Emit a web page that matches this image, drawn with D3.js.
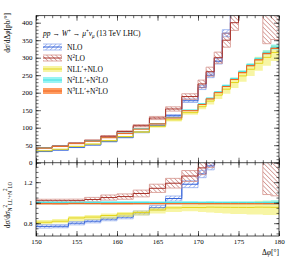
<!DOCTYPE html>
<html>
<head>
<meta charset="utf-8">
<script src="https://cdn.jsdelivr.net/npm/d3@7"></script>
<style>
body { margin: 0; background: #fff; }
svg text { font-family: "Liberation Serif", "DejaVu Serif", serif; fill: #000; }
.axis path.domain { display: none; }
.axis line { stroke: #000; stroke-width: 0.6; }
</style>
</head>
<body>
<div id="idChart"></div>
<script>
// bin edges in degrees (2 deg bins up to 170, 1 deg bins after)
var binEdges = [150,152,154,156,158,160,162,164,166,168,170,171,172,173,174,175,176,177,178,179,180];

// NLO (fixed order)
var nlo   = [32.3,36.2,44,50.8,60.5,72.2,87.3,106.4,134.2,177,215,250,290,370,450,600,600,600,600,600];
var nloLo = [31.6,35.5,43.1,49.8,59.3,70.8,85.5,104,131,172,209,243,282,360,440,590,590,590,590,590];
var nloHi = [33,36.9,44.9,51.8,61.7,73.6,89.1,108.8,137.4,182,221,257,298,380,460,610,610,610,610,610];

// N2LO (fixed order)
var n2lo   = [42.8,47.9,56.1,63.9,75.6,89,105.7,127.7,153.5,189,225,260,300,350,400,600,600,600,480,480];
var n2loLo = [42.2,47.2,55.3,62.6,73.8,86.8,102.5,123.2,147.4,181,214,247,284,330,378,560,560,560,340,352];
var n2loHi = [43.4,48.6,56.9,65.2,77.4,91.2,108.9,132.2,159.6,197,236,273,316,370,422,640,640,640,620,620];

// NLL'+NLO
var nll   = [34,38.5,46.8,53.3,63,74.8,87.8,104,122.5,143,160,176,193,210,229,248,267,284,301,315];
var nllLo = [33.2,37.6,45.1,51.5,60.8,72.2,84.9,100.2,117.4,137.3,152.9,166.5,181.8,196.9,213.6,231.4,247.8,262.8,277.2,290.4];
var nllHi = [34.9,39.5,47.9,54.6,64.4,76.4,89.7,106.4,125.1,147,166.3,184,202,220,242.4,262.6,282.8,302.9,321.3,336.6];

// N2LL'+N2LO (reference for ratio)
var n2ll   = [42,47,55,62,72,84,97,112,129,150,168,184,202,220,240,260,280,297,315,330];
var n2llLo = [41.4,46.3,54.2,61.1,70.9,82.7,95.5,110.3,127.1,147.8,165.5,181.2,199,216.7,236.4,256.1,275.8,292.5,309,323];
var n2llHi = [42.6,47.7,55.8,62.9,73.1,85.3,98.5,113.7,130.9,152.3,170.5,186.8,205,223.3,243.6,263.9,284.2,301.5,321,338];

// N3LL'+N2LO
var n3ll   = [41.6,46.5,54.5,61.4,71.3,83.2,96,110.9,127.7,148.5,166.3,182.2,200,217.8,237.6,257.4,277.2,294,311.9,326.7];
var n3llLo = [41.3,46.2,54.1,61,70.8,82.6,95.4,110.2,126.9,147.6,165.3,181.1,198.8,216.5,236.2,255.9,275.6,292.3,310,324.7];
var n3llHi = [41.9,46.8,54.9,61.8,71.8,83.8,96.6,111.6,128.5,149.4,167.3,183.3,201.2,219.1,239,258.9,278.8,295.7,313.8,328.7];

var xTicks = [150,155,160,165,170,175,180];
var yTicks = [0,50,100,150,200,250,300,350,400];
var rTicks = [0.8,1,1.2];

// label pieces: t = text, i = italic, s = +1 superscript / -1 subscript
var series = [
    {name: [{t: "NLO"}], c: nlo, lo: nloLo, hi: nloHi, line: "#2f5fd8", edge: "#8fa9ee", fill: "url(#hatchBlue)"},
    {name: [{t: "N"}, {t: "2", s: 1}, {t: "LO"}], c: n2lo, lo: n2loLo, hi: n2loHi, line: "#a8322a", edge: "#d6938c", fill: "url(#hatchRed)"},
    {name: [{t: "NLL′+NLO"}], c: nll, lo: nllLo, hi: nllHi, line: "#e3d51c", edge: "none", fill: "rgba(240,236,90,0.55)"},
    {name: [{t: "N"}, {t: "2", s: 1}, {t: "LL′+N"}, {t: "2", s: 1}, {t: "LO"}], c: n2ll, lo: n2llLo, hi: n2llHi, line: "#3fe0e0", edge: "none", fill: "rgba(110,240,240,0.7)"},
    {name: [{t: "N"}, {t: "3", s: 1}, {t: "LL′+N"}, {t: "2", s: 1}, {t: "LO"}], c: n3ll, lo: n3llLo, hi: n3llHi, line: "#f0641e", edge: "none", fill: "rgba(255,140,70,0.85)"}
];

var W = 288, H = 260;
var L = 36, R = 279, T = 15.7, M = 162.7, B = 236;

var x = d3.scaleLinear().domain([150,180]).range([L,R]);
var y = d3.scaleLinear().domain([0,420]).range([M,T]);
var yr = d3.scaleLinear().domain([0.675,1.39]).range([B,M]);

var svg = d3.select("#idChart").append("svg").attr("width", W).attr("height", H);

var defs = svg.append("defs");
function addHatch(id, color, angle)
{
    var p = defs.append("pattern").attr("id", id)
        .attr("patternUnits", "userSpaceOnUse")
        .attr("width", 3.2).attr("height", 3.2)
        .attr("patternTransform", "rotate(" + angle + ")");
    p.append("line").attr("x1", 0).attr("y1", 0).attr("x2", 0).attr("y2", 3.2)
        .attr("stroke", color).attr("stroke-width", 0.8);
}
addHatch("hatchBlue", "#3a66dd", 45);
addHatch("hatchRed", "#a8322a", -45);

defs.append("clipPath").attr("id", "clipTop").append("rect")
    .attr("x", L).attr("y", T).attr("width", R - L).attr("height", M - T);
defs.append("clipPath").attr("id", "clipBot").append("rect")
    .attr("x", L).attr("y", M).attr("width", R - L).attr("height", B - M);

// writes pieces as tspans, keeping track of the baseline shift
function richText(txt, parts, fs)
{
    var shift = 0;
    parts.forEach(function(p) {
        var target = p.s == 1 ? -0.38 * fs : (p.s == -1 ? 0.22 * fs : 0);
        var ts = txt.append("tspan").attr("dy", target - shift).text(p.t);
        if (p.s) ts.style("font-size", (fs * 0.68) + "px");
        if (p.i) ts.style("font-style", "italic");
        shift = target;
    });
}

function stepRows(c, lo, hi, ref)
{
    var rows = [];
    for (var i = 0; i <= c.length; i++) {
        var k = Math.min(i, c.length - 1);
        var d = ref ? ref[k] : 1;
        rows.push({e: binEdges[i], c: c[k] / d, lo: lo[k] / d, hi: hi[k] / d});
    }
    return rows;
}

function drawPanel(clipId, ys, ref)
{
    var g = svg.append("g").attr("clip-path", "url(#" + clipId + ")");
    var area = d3.area().curve(d3.curveStepAfter)
        .x(function(d) { return x(d.e); })
        .y0(function(d) { return ys(d.lo); })
        .y1(function(d) { return ys(d.hi); });
    var line = d3.line().curve(d3.curveStepAfter)
        .x(function(d) { return x(d.e); });

    series.forEach(function(s) {
        var rows = stepRows(s.c, s.lo, s.hi, ref);
        g.append("path").attr("d", area(rows)).attr("fill", s.fill).attr("stroke", "none");
        if (s.edge != "none") {
            g.append("path").attr("d", line.y(function(d) { return ys(d.lo); })(rows))
                .attr("fill", "none").attr("stroke", s.edge).attr("stroke-width", 0.8);
            g.append("path").attr("d", line.y(function(d) { return ys(d.hi); })(rows))
                .attr("fill", "none").attr("stroke", s.edge).attr("stroke-width", 0.8);
        }
        g.append("path").attr("d", line.y(function(d) { return ys(d.c); })(rows))
            .attr("fill", "none").attr("stroke", s.line).attr("stroke-width", 1);
    });
}

drawPanel("clipTop", y, null);
drawPanel("clipBot", yr, n2ll);

// frame
svg.append("rect").attr("x", L).attr("y", T).attr("width", R - L).attr("height", B - T)
    .attr("fill", "none").attr("stroke", "#000").attr("stroke-width", 0.7);
svg.append("line").attr("x1", L).attr("x2", R).attr("y1", M).attr("y2", M)
    .attr("stroke", "#000").attr("stroke-width", 0.7);

function ticks(axis, tr, major, minor, fmt, fs)
{
    svg.append("g").attr("class", "axis").attr("transform", tr)
        .call(axis.tickValues(minor).tickSize(-2.5).tickFormat(""));
    var g = svg.append("g").attr("class", "axis").attr("transform", tr)
        .call(axis.tickValues(major).tickSize(-5).tickPadding(3.5).tickFormat(fmt));
    g.selectAll("text").style("font-size", fs + "px").attr("fill", "#000");
}

var xMinor = d3.range(150, 181, 1);
var yMinor = d3.range(0, 421, 10);
var rMinor = d3.range(0.7, 1.39, 0.05);
var none = function() { return ""; };

ticks(d3.axisLeft(y), "translate(" + L + ",0)", yTicks, yMinor, d3.format("d"), 7);
ticks(d3.axisRight(y), "translate(" + R + ",0)", yTicks, yMinor, none, 7);
ticks(d3.axisTop(x), "translate(0," + T + ")", xTicks, xMinor, none, 7);
ticks(d3.axisBottom(x), "translate(0," + M + ")", xTicks, xMinor, none, 7);
ticks(d3.axisTop(x), "translate(0," + M + ")", xTicks, xMinor, none, 7);
ticks(d3.axisLeft(yr), "translate(" + L + ",0)", rTicks, rMinor, function(d) { return d == 1 ? "1" : d3.format(".1f")(d); }, 7);
ticks(d3.axisRight(yr), "translate(" + R + ",0)", rTicks, rMinor, none, 7);
ticks(d3.axisBottom(x), "translate(0," + B + ")", xTicks, xMinor, d3.format("d"), 7);

// axis titles
richText(svg.append("text").attr("transform", "translate(10,13) rotate(-90)")
    .attr("text-anchor", "end").style("font-size", "7.5px"),
    [{t: "d"}, {t: "σ", i: 1}, {t: "/dΔ"}, {t: "φ", i: 1}, {t: "[pb/°]"}], 7.5);
richText(svg.append("text").attr("transform", "translate(10,205) rotate(-90)")
    .attr("text-anchor", "middle").style("font-size", "7.5px"),
    [{t: "d"}, {t: "σ", i: 1}, {t: "/d"}, {t: "σ", i: 1}, {t: "N", s: -1}, {t: "2", s: 1}, {t: "LL′+N", s: -1}, {t: "2", s: 1}, {t: "LO", s: -1}], 7.5);
richText(svg.append("text").attr("x", R).attr("y", 255)
    .attr("text-anchor", "end").style("font-size", "7.5px"),
    [{t: "Δ"}, {t: "φ", i: 1}, {t: "[°]"}], 7.5);

// process label
richText(svg.append("text").attr("x", 43).attr("y", 36).style("font-size", "7.5px"),
    [{t: "pp", i: 1}, {t: " → "}, {t: "W", i: 1}, {t: "+", s: 1}, {t: " → "}, {t: "μ", i: 1}, {t: "+", s: 1},
     {t: "ν", i: 1}, {t: "μ", i: 1, s: -1}, {t: " (13 TeV LHC)"}], 7.5);

// legend
var legY = [47, 58, 69, 80, 91];
series.forEach(function(s, i) {
    var yy = legY[i];
    svg.append("rect").attr("x", 43).attr("y", yy - 3).attr("width", 19).attr("height", 6)
        .attr("fill", s.fill);
    if (s.edge != "none") {
        svg.append("line").attr("x1", 43).attr("x2", 62).attr("y1", yy - 3).attr("y2", yy - 3)
            .attr("stroke", s.edge).attr("stroke-width", 0.8);
        svg.append("line").attr("x1", 43).attr("x2", 62).attr("y1", yy + 3).attr("y2", yy + 3)
            .attr("stroke", s.edge).attr("stroke-width", 0.8);
    }
    svg.append("line").attr("x1", 43).attr("x2", 62).attr("y1", yy).attr("y2", yy)
        .attr("stroke", s.line).attr("stroke-width", 1);
    richText(svg.append("text").attr("x", 67).attr("y", yy + 2.7).style("font-size", "7.5px"), s.name, 7.5);
});
</script>
</body>
</html>
